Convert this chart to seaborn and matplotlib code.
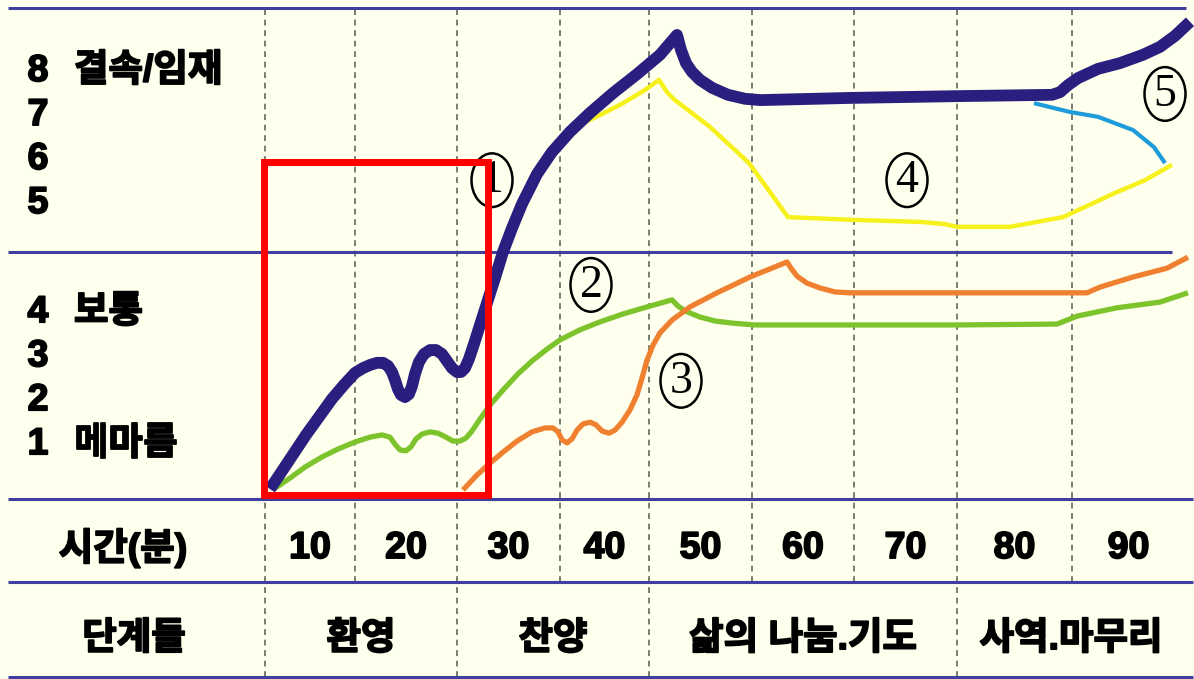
import matplotlib
matplotlib.use('Agg')
import matplotlib.pyplot as plt
import matplotlib.patheffects as pe
from matplotlib.patches import Rectangle, Ellipse
import seaborn as sns

# 격자 / 축 데이터 (x: 분, y: 예배 몰입 단계)
Grade_Minutos = [5.0, 14.0, 24.2, 34.5, 43.4, 53.7, 63.9, 74.2, 85.7]
Fim_Minuto = 97.0
Rotulos_Tempo = ['10', '20', '30', '40', '50', '60', '70', '80', '90']
Limites_Etapas = [5.0, 24.2, 43.4, 74.2, 97.0]
Rotulos_Etapas = ['환영', '찬양', '삶의 나눔.기도', '사역.마무리']
Niveis_Baixos = [4, 3, 2, 1]
Niveis_Altos = [8, 7, 6, 5]
Nomes_Niveis = {8: '결속/임재', 4: '보통', 1: '메마름'}

# ① 공동체 전체 흐름
curva1_x = [5.5, 6.7, 7.9, 9.1, 10.4, 11.7, 12.9, 14.0, 14.8, 15.5, 16.2, 16.8, 17.3, 17.7, 18.0,
            18.3, 18.6, 19.0, 19.4, 19.7, 20.0, 20.4, 20.9, 21.5, 22.1, 22.7, 23.2, 23.7, 24.2,
            24.6, 25.0, 25.4, 25.9, 26.5, 27.2, 28.0, 28.8, 29.7, 30.7, 32.2, 33.7, 35.5, 37.5,
            39.8, 42.2, 44.5, 46.2, 46.6, 47.1, 47.7, 48.5, 49.7, 51.3, 53.0, 54.5, 63.6, 74.2,
            83.7, 84.5, 85.3, 86.3, 88.3, 90.5, 92.8, 94.5, 96.0, 97.5]
curva1_y = [-0.07, 0.34, 0.75, 1.16, 1.57, 1.98, 2.30, 2.57, 2.68, 2.75, 2.80, 2.80, 2.73, 2.59, 2.41,
            2.20, 2.07, 2.02, 2.09, 2.27, 2.55, 2.82, 3.00, 3.09, 3.09, 3.00, 2.84, 2.68, 2.59,
            2.59, 2.68, 2.89, 3.23, 3.66, 4.16, 4.73, 5.32, 5.86, 6.41, 7.09, 7.59, 8.05, 8.48,
            8.93, 9.36, 9.80, 10.25, 9.91, 9.61, 9.41, 9.23, 9.05, 8.89, 8.80, 8.77, 8.82, 8.86,
            8.89, 8.95, 9.11, 9.27, 9.48, 9.61, 9.80, 9.98, 10.23, 10.55]

# ②
curva2_x = [6.0, 7.5, 9.0, 10.7, 12.3, 14.0, 15.5, 16.7, 17.5, 18.0, 18.5, 19.1, 19.6, 20.1, 20.7,
            21.5, 22.3, 23.1, 23.8, 24.5, 25.1, 25.7, 26.5, 27.5, 28.8, 30.3, 31.8, 33.2, 34.5,
            36.5, 38.5, 40.8, 43.2, 45.7, 46.3, 47.0, 48.5, 50.0, 51.8, 54.0, 74.2, 84.2, 86.2,
            90.2, 94.5, 97.3]
curva2_y = [-0.05, 0.18, 0.43, 0.66, 0.84, 1.00, 1.11, 1.16, 1.11, 0.95, 0.82, 0.80, 0.89, 1.07, 1.18,
            1.23, 1.20, 1.11, 1.02, 1.02, 1.09, 1.25, 1.52, 1.84, 2.18, 2.55, 2.86, 3.11, 3.32,
            3.55, 3.73, 3.91, 4.07, 4.23, 4.09, 3.98, 3.84, 3.75, 3.70, 3.66, 3.66, 3.68, 3.86,
            4.05, 4.18, 4.39]

# ③
curva3_x = [24.8, 26.2, 27.5, 28.8, 30.2, 31.7, 33.0, 33.8, 34.3, 34.7, 35.2, 35.7, 36.2, 36.8, 37.5,
            38.1, 38.7, 39.4, 40.0, 40.7, 41.5, 42.2, 42.7, 43.2, 43.8, 44.5, 45.7, 47.5, 50.2,
            53.5, 57.2, 57.6, 58.2, 59.2, 60.5, 62.0, 63.5, 74.2, 87.2, 88.5, 91.8, 95.2, 97.3]
curva3_y = [-0.09, 0.25, 0.52, 0.77, 1.02, 1.23, 1.32, 1.32, 1.23, 1.05, 0.98, 1.07, 1.27, 1.41, 1.45,
            1.39, 1.25, 1.20, 1.27, 1.45, 1.73, 2.07, 2.45, 2.86, 3.20, 3.48, 3.77, 4.07, 4.39,
            4.75, 5.09, 4.95, 4.77, 4.61, 4.50, 4.41, 4.39, 4.39, 4.39, 4.52, 4.75, 4.95, 5.20]

# ④
curva4_x = [36.8, 38.5, 40.8, 43.0, 44.4, 45.2, 46.0, 49.5, 53.4, 57.3, 63.6, 70.7, 73.0, 74.2, 79.5,
            84.8, 90.0, 93.0, 95.7]
curva4_y = [8.25, 8.43, 8.70, 9.00, 9.23, 8.95, 8.77, 8.16, 7.34, 6.11, 6.05, 6.00, 5.95, 5.89, 5.89,
            6.11, 6.66, 6.95, 7.30]

# ⑤
curva5_x = [81.9, 85.5, 88.3, 91.8, 93.9, 95.0]
curva5_y = [8.70, 8.50, 8.39, 8.09, 7.70, 7.34]

Marcadores = ['1', '2', '3', '4', '5']
Marcadores_x = [27.7, 37.6, 46.6, 69.2, 95.0]
Marcadores_y = [6.95, 4.57, 2.39, 6.95, 8.91]

# 강조 박스 (환영 구간)
Destaque_x = (4.9, 27.3)
Destaque_y = (-0.20, 7.36)

sns.set_style('white')
plt.rcParams['font.family'] = ['Liberation Sans', 'Noto Sans CJK KR', 'DejaVu Sans']

Fundo = '#FFFFEE'
Cor_Linha = '#3F3F9F'
Cor_Grade = '#5F6A5A'

fig = plt.figure(figsize=(11.94, 6.79), dpi=100, facecolor=Fundo)
ax = fig.add_axes([0, 0, 1, 1])
ax.set_facecolor(Fundo)
ax.set_xlim(-21.5, 97.9)
ax.set_ylim(-4.386, 11.045)
ax.axis('off')

# 행 구분선
Linha_Topo, Linha_Meio, Linha_Base, Linha_Tempo, Linha_Fim = 10.86, 5.32, -0.30, -2.18, -4.34
ax.hlines(Linha_Topo, -20.7, 97.1, color=Cor_Linha, lw=2.2, zorder=2)
ax.hlines(Linha_Meio, -20.7, 95.7, color=Cor_Linha, lw=2.2, zorder=2)
ax.hlines([Linha_Base, Linha_Tempo, Linha_Fim], -20.7, 97.8, color=Cor_Linha, lw=2.2, zorder=2)

# 점선 격자
ax.vlines(Grade_Minutos, Linha_Tempo, Linha_Topo, color=Cor_Grade, lw=1.2,
          linestyles=(0, (3.5, 2.8)), zorder=1)
ax.vlines(Limites_Etapas[:-1], Linha_Fim, Linha_Tempo, color=Cor_Grade, lw=1.2,
          linestyles=(0, (3.5, 2.8)), zorder=1)

# 곡선들
curvas = [
    (curva2_x, curva2_y, '#7DC32C', 3.8),
    (curva3_x, curva3_y, '#EE8030', 3.8),
    (curva4_x, curva4_y, '#F6F11C', 3.2),
    (curva5_x, curva5_y, '#1E9BDB', 3.0),
    (curva1_x, curva1_y, '#2A1F7E', 8.5),
]
for cx, cy, cor, lw in curvas:
    sns.lineplot(x=cx, y=cy, sort=False, estimator=None, color=cor, linewidth=lw, ax=ax,
                 solid_joinstyle='round', solid_capstyle='butt', zorder=4)

# 굵은 글씨 (조금 더 두껍게)
negrito = [pe.withStroke(linewidth=1.3, foreground='black')]
fonte_txt = dict(fontsize=27, fontweight='bold', color='black', va='center', path_effects=negrito)
Desloc_Alto = 1.43
for n in Niveis_Baixos:
    ax.text(-17.7, n - 0.05, str(n), ha='center', **fonte_txt)
    if n in Nomes_Niveis:
        ax.text(-14.1, n - 0.05, Nomes_Niveis[n], ha='left', **fonte_txt)
for n in Niveis_Altos:
    ax.text(-17.7, n + Desloc_Alto, str(n), ha='center', **fonte_txt)
    if n in Nomes_Niveis:
        ax.text(-14.1, n + Desloc_Alto, Nomes_Niveis[n], ha='left', **fonte_txt)

# 시간 행
Centro_Tempo = -1.41
Centro_Etapa = -3.48
ax.text(-9.2, Centro_Tempo, '시간(분)', ha='center', **fonte_txt)
limites = Grade_Minutos + [Fim_Minuto]
for i, rot in enumerate(Rotulos_Tempo):
    ax.text((limites[i] + limites[i + 1]) / 2, Centro_Tempo, rot, ha='center', **fonte_txt)

# 단계 행
ax.text(-8.1, Centro_Etapa, '단계들', ha='center', **fonte_txt)
for i, rot in enumerate(Rotulos_Etapas):
    ax.text((Limites_Etapas[i] + Limites_Etapas[i + 1]) / 2, Centro_Etapa, rot, ha='center', **fonte_txt)

# 번호 표시 (원 안의 숫자)
for m, mx, my in zip(Marcadores, Marcadores_x, Marcadores_y):
    ax.add_patch(Ellipse((mx, my), 4.1, 1.22, fill=False, edgecolor='black', linewidth=1.8, zorder=5))
    ax.text(mx, my - 0.02, m, ha='center', va='center', fontsize=33, color='black',
            family='Liberation Serif', zorder=5)

# 빨간 박스
ax.add_patch(Rectangle((Destaque_x[0], Destaque_y[0]), Destaque_x[1] - Destaque_x[0],
                       Destaque_y[1] - Destaque_y[0], fill=False, edgecolor='#FF0000',
                       linewidth=5, zorder=6))

plt.savefig('out.png', dpi=100, facecolor=Fundo)
